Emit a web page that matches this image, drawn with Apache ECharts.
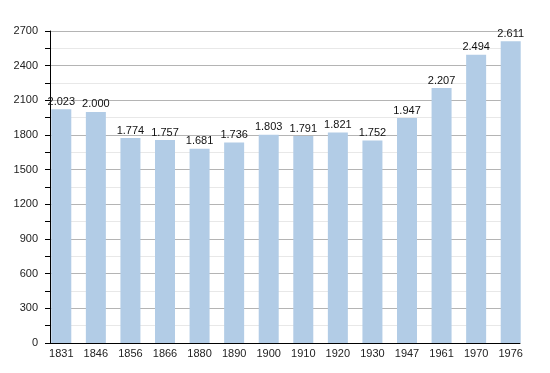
<!DOCTYPE html>
<html><head><meta charset="utf-8">
<script src="https://cdn.jsdelivr.net/npm/echarts@6/dist/echarts.min.js"></script>
<style>html,body{margin:0;padding:0;background:#fff}#c{width:550px;height:373px}</style>
</head><body><div id="c"></div>
<script>
const years = ['1831','1846','1856','1866','1880','1890','1900','1910','1920','1930','1947','1961','1970','1976'];
const population = [2023,2000,1774,1757,1681,1736,1803,1791,1821,1752,1947,2207,2494,2611];
const yMin = 0, yMax = 2700, yStep = 300;

const chart = echarts.init(document.getElementById('c'));
const font = 'Liberation Sans, Arial, Helvetica, sans-serif';
chart.setOption({
  animation: false,
  grid: [
    {left: 50, right: 30, top: 31, bottom: 30},
    {left: 44, width: 484, top: 31, bottom: 30}
  ],
  xAxis: [
    {gridIndex: 0, type: 'value', min: 0, max: 1, axisLine: {show: true, onZero: false, lineStyle: {color: '#000', width: 1}},
     axisTick: {show: false}, axisLabel: {show: false}, splitLine: {show: false}},
    {gridIndex: 1, type: 'category', data: years, axisLine: {show: false}, axisTick: {show: false},
     axisLabel: {color: '#222', fontSize: 11, fontFamily: font, margin: 5}}
  ],
  yAxis: [
    {gridIndex: 0, type: 'value', min: yMin, max: yMax, interval: yStep,
     axisLine: {show: true, lineStyle: {color: '#000', width: 1}},
     axisTick: {show: true, inside: false, length: 5, lineStyle: {color: '#000'}},
     minorTick: {show: true, splitNumber: 2, length: 5, lineStyle: {color: '#000'}},
     axisLabel: {color: '#222', fontSize: 11, fontFamily: font, margin: 12, formatter: v => String(v)},
     splitLine: {show: true, lineStyle: {color: '#b4b4b4', width: 1}},
     minorSplitLine: {show: true, lineStyle: {color: '#e8e8e8', width: 1}}},
    {gridIndex: 1, type: 'value', min: yMin, max: yMax, show: false, splitLine: {show: false}}
  ],
  series: [{
    type: 'bar', xAxisIndex: 1, yAxisIndex: 1, data: population, barWidth: 20,
    itemStyle: {color: '#b2cce6'},
    label: {show: true, position: 'top', distance: 2, color: '#111', fontSize: 11, fontFamily: font,
      formatter: p => { const v = p.value; return Math.floor(v/1000) + '.' + String(v%1000).padStart(3,'0'); }}
  }]
});
</script></body></html>
